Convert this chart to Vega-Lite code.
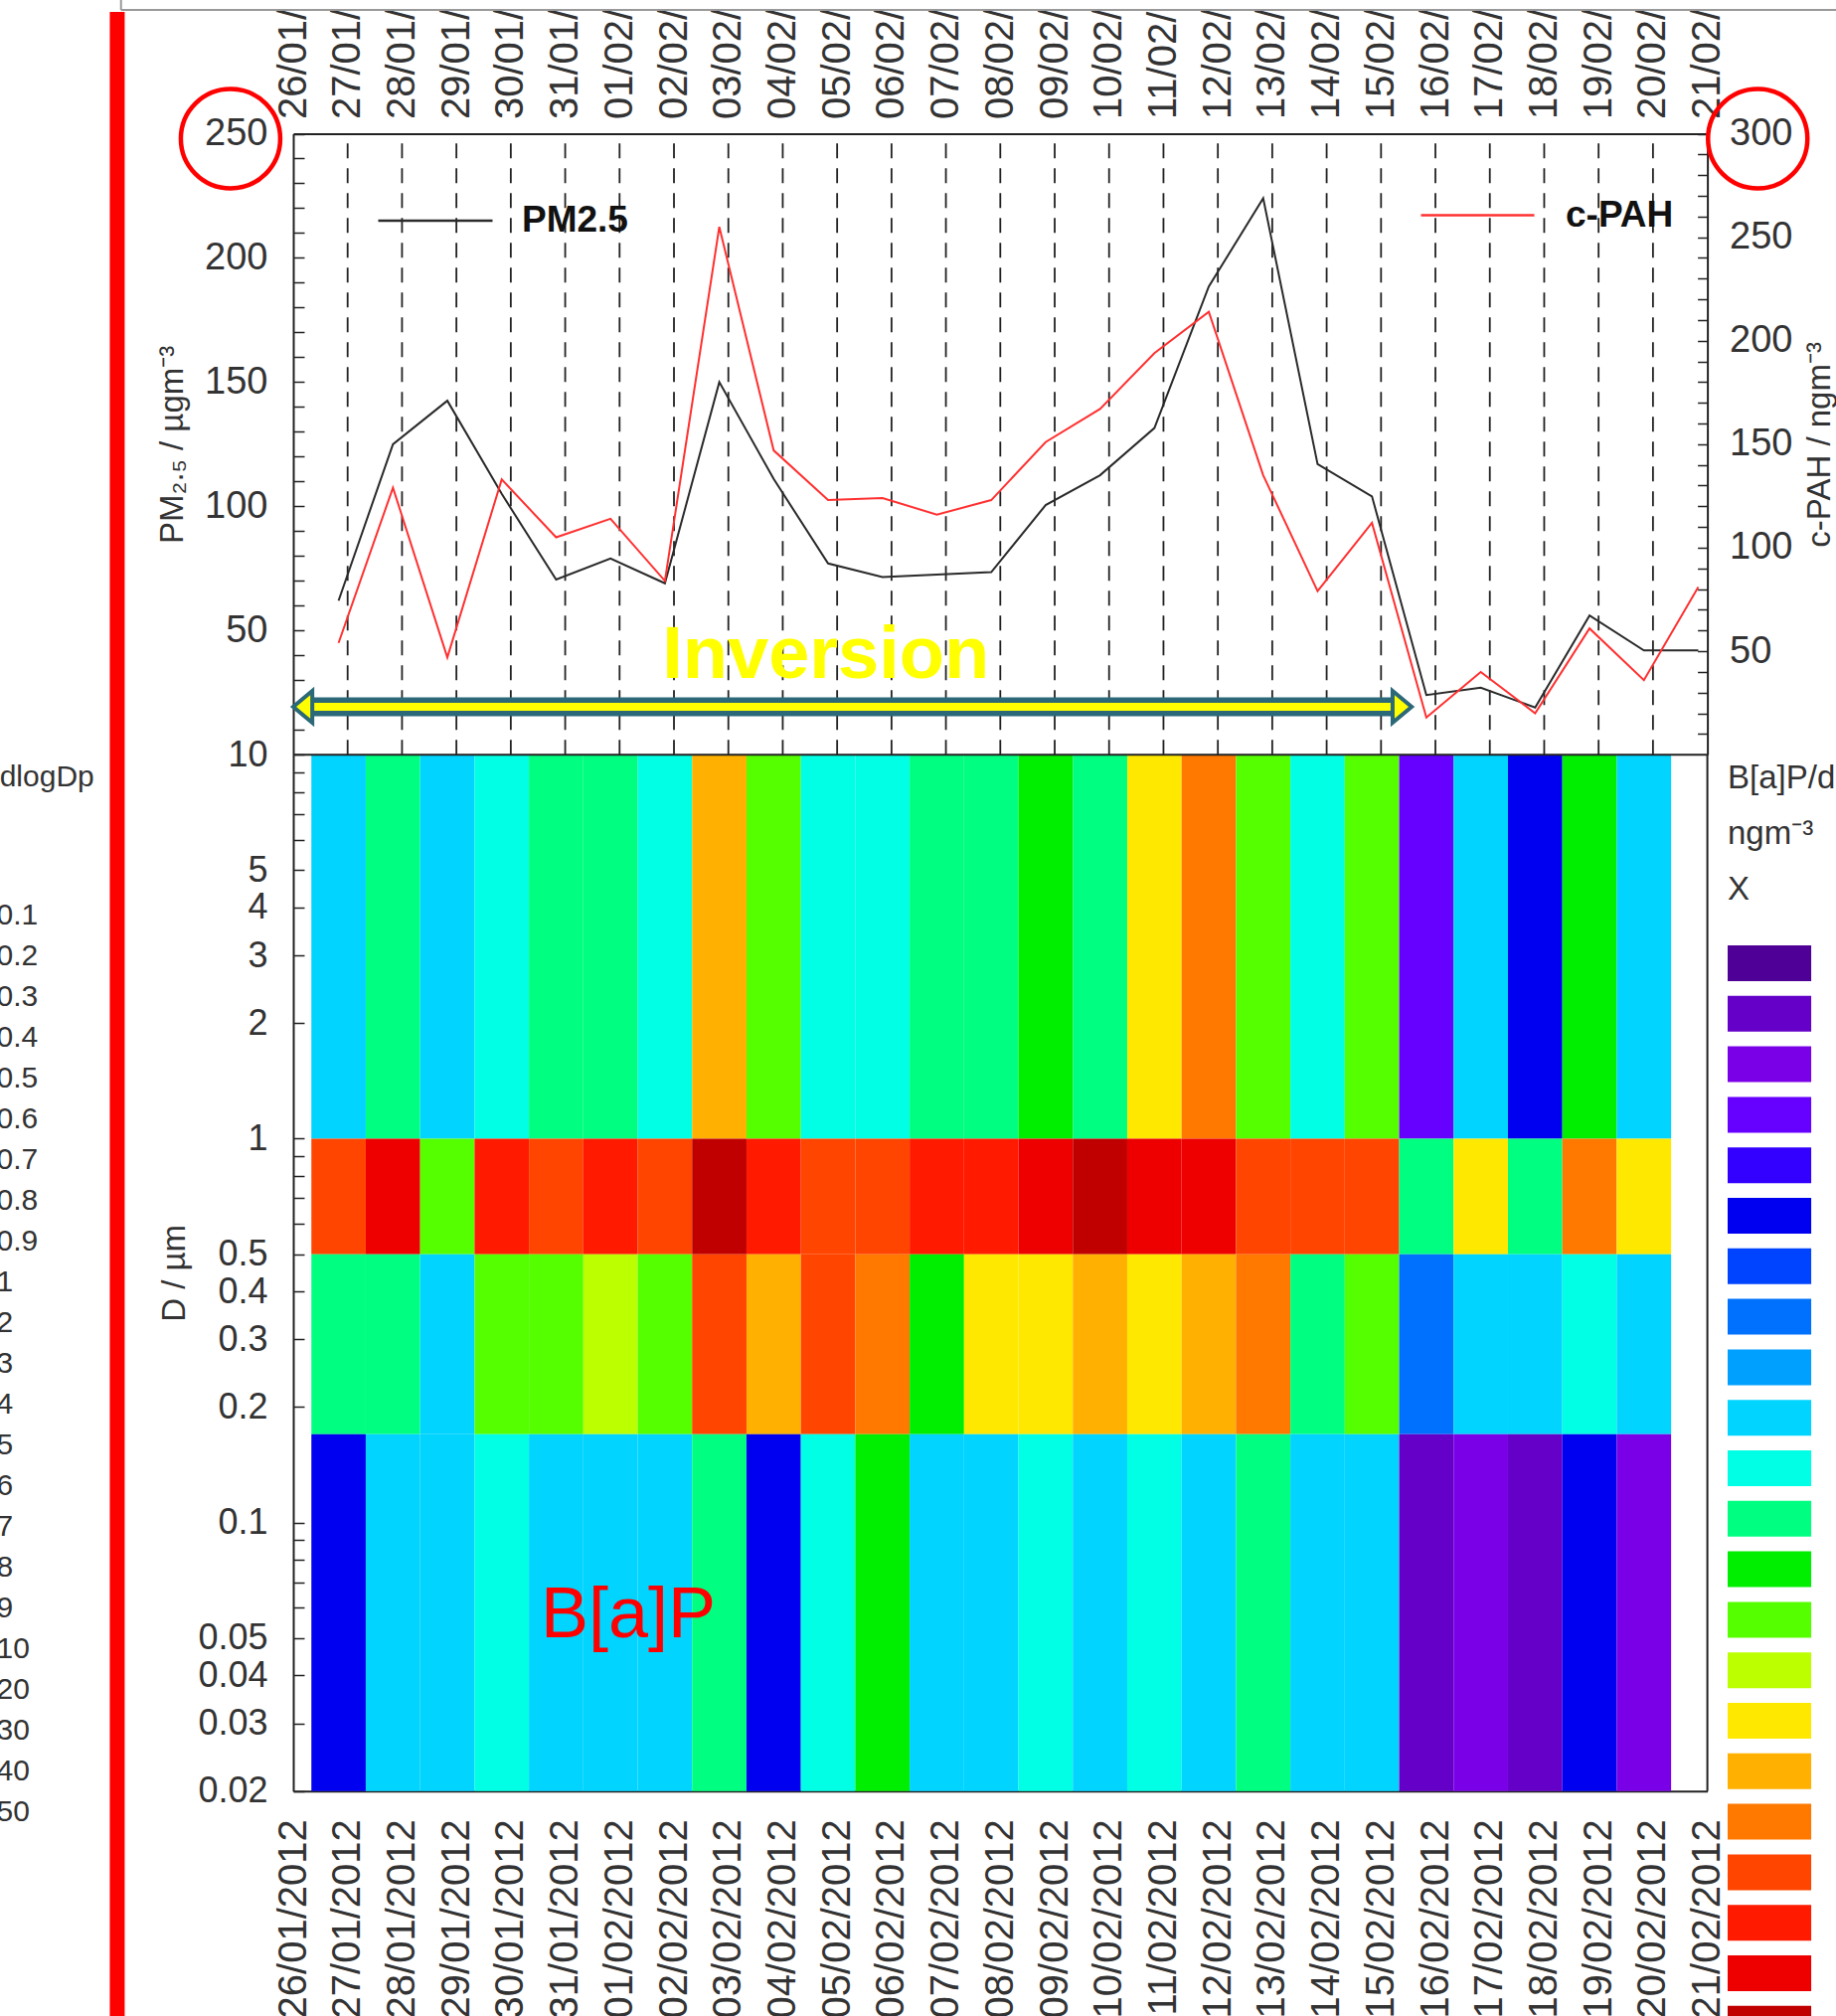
{
  "$schema": "https://vega.github.io/schema/vega-lite/v6.json",
  "width": 1847,
  "height": 2016,
  "autosize": {"type": "none"},
  "padding": {"top": 12, "left": 0, "right": 0, "bottom": 0},
  "background": "#ffffff",
  "config": {
    "view": {"fill": "#c6dce5", "stroke": null},
    "font": "Liberation Sans",
    "axis": {"labelFont": "Liberation Sans", "titleFont": "Liberation Sans", "labelColor": "#333333", "titleColor": "#333333", "domainColor": "#222222", "tickColor": "#222222", "domainWidth": 2, "tickWidth": 1.5, "grid": false, "titleFontWeight": "normal", "labelFlush": false, "labelBound": false, "labelOverlap": false, "labelLimit": 0},
    "legend": {"labelFont": "Liberation Sans", "titleFont": "Liberation Sans", "padding": 0, "titleLimit": 0, "labelLimit": 0}
  },
  "datasets": {
    "gridDates": [
      {"d": "2012-01-27T00:00:00Z"}, {"d": "2012-01-28T00:00:00Z"}, {"d": "2012-01-29T00:00:00Z"}, {"d": "2012-01-30T00:00:00Z"}, {"d": "2012-01-31T00:00:00Z"},
      {"d": "2012-02-01T00:00:00Z"}, {"d": "2012-02-02T00:00:00Z"}, {"d": "2012-02-03T00:00:00Z"}, {"d": "2012-02-04T00:00:00Z"}, {"d": "2012-02-05T00:00:00Z"},
      {"d": "2012-02-06T00:00:00Z"}, {"d": "2012-02-07T00:00:00Z"}, {"d": "2012-02-08T00:00:00Z"}, {"d": "2012-02-09T00:00:00Z"}, {"d": "2012-02-10T00:00:00Z"},
      {"d": "2012-02-11T00:00:00Z"}, {"d": "2012-02-12T00:00:00Z"}, {"d": "2012-02-13T00:00:00Z"}, {"d": "2012-02-14T00:00:00Z"}, {"d": "2012-02-15T00:00:00Z"},
      {"d": "2012-02-16T00:00:00Z"}, {"d": "2012-02-17T00:00:00Z"}, {"d": "2012-02-18T00:00:00Z"}, {"d": "2012-02-19T00:00:00Z"}, {"d": "2012-02-20T00:00:00Z"}
    ],
    "bands": [
      {"band": "b1", "lo": 1, "hi": 10},
      {"band": "b2", "lo": 0.5, "hi": 1},
      {"band": "b3", "lo": 0.17, "hi": 0.5},
      {"band": "b4", "lo": 0.02, "hi": 0.17}
    ],
    "samples": [
      {"start": "2012-01-26T08:00:00Z", "end": "2012-01-27T08:00:00Z", "b1": 10, "b2": 19, "b3": 12, "b4": 6},
      {"start": "2012-01-27T08:00:00Z", "end": "2012-01-28T08:00:00Z", "b1": 12, "b2": 21, "b3": 12, "b4": 10},
      {"start": "2012-01-28T08:00:00Z", "end": "2012-01-29T08:00:00Z", "b1": 10, "b2": 14, "b3": 10, "b4": 10},
      {"start": "2012-01-29T08:00:00Z", "end": "2012-01-30T08:00:00Z", "b1": 11, "b2": 20, "b3": 14, "b4": 11},
      {"start": "2012-01-30T08:00:00Z", "end": "2012-01-31T08:00:00Z", "b1": 12, "b2": 19, "b3": 14, "b4": 10},
      {"start": "2012-01-31T08:00:00Z", "end": "2012-02-01T08:00:00Z", "b1": 12, "b2": 20, "b3": 15, "b4": 10},
      {"start": "2012-02-01T08:00:00Z", "end": "2012-02-02T08:00:00Z", "b1": 11, "b2": 19, "b3": 14, "b4": 10},
      {"start": "2012-02-02T08:00:00Z", "end": "2012-02-03T08:00:00Z", "b1": 17, "b2": 22, "b3": 19, "b4": 12},
      {"start": "2012-02-03T08:00:00Z", "end": "2012-02-04T08:00:00Z", "b1": 14, "b2": 20, "b3": 17, "b4": 6},
      {"start": "2012-02-04T08:00:00Z", "end": "2012-02-05T08:00:00Z", "b1": 11, "b2": 19, "b3": 19, "b4": 11},
      {"start": "2012-02-05T08:00:00Z", "end": "2012-02-06T08:00:00Z", "b1": 11, "b2": 19, "b3": 18, "b4": 13},
      {"start": "2012-02-06T08:00:00Z", "end": "2012-02-07T08:00:00Z", "b1": 12, "b2": 20, "b3": 13, "b4": 10},
      {"start": "2012-02-07T08:00:00Z", "end": "2012-02-08T08:00:00Z", "b1": 12, "b2": 20, "b3": 16, "b4": 10},
      {"start": "2012-02-08T08:00:00Z", "end": "2012-02-09T08:00:00Z", "b1": 13, "b2": 21, "b3": 16, "b4": 11},
      {"start": "2012-02-09T08:00:00Z", "end": "2012-02-10T08:00:00Z", "b1": 12, "b2": 22, "b3": 17, "b4": 10},
      {"start": "2012-02-10T08:00:00Z", "end": "2012-02-11T08:00:00Z", "b1": 16, "b2": 21, "b3": 16, "b4": 11},
      {"start": "2012-02-11T08:00:00Z", "end": "2012-02-12T08:00:00Z", "b1": 18, "b2": 21, "b3": 17, "b4": 10},
      {"start": "2012-02-12T08:00:00Z", "end": "2012-02-13T08:00:00Z", "b1": 14, "b2": 19, "b3": 18, "b4": 12},
      {"start": "2012-02-13T08:00:00Z", "end": "2012-02-14T08:00:00Z", "b1": 11, "b2": 19, "b3": 12, "b4": 10},
      {"start": "2012-02-14T08:00:00Z", "end": "2012-02-15T08:00:00Z", "b1": 14, "b2": 19, "b3": 14, "b4": 10},
      {"start": "2012-02-15T08:00:00Z", "end": "2012-02-16T08:00:00Z", "b1": 4, "b2": 12, "b3": 8, "b4": 2},
      {"start": "2012-02-16T08:00:00Z", "end": "2012-02-17T08:00:00Z", "b1": 10, "b2": 16, "b3": 10, "b4": 3},
      {"start": "2012-02-17T08:00:00Z", "end": "2012-02-18T08:00:00Z", "b1": 6, "b2": 12, "b3": 10, "b4": 2},
      {"start": "2012-02-18T08:00:00Z", "end": "2012-02-19T08:00:00Z", "b1": 13, "b2": 18, "b3": 11, "b4": 6},
      {"start": "2012-02-19T08:00:00Z", "end": "2012-02-20T08:00:00Z", "b1": 10, "b2": 16, "b3": 10, "b4": 3}
    ],
    "lines": [
      {"t": "2012-01-26T20:00:00Z", "pm": 62, "pah": 54},
      {"t": "2012-01-27T20:00:00Z", "pm": 125, "pah": 129},
      {"t": "2012-01-28T20:00:00Z", "pm": 142.5, "pah": 47},
      {"t": "2012-01-29T20:00:00Z", "pm": 105, "pah": 133},
      {"t": "2012-01-30T20:00:00Z", "pm": 70.5, "pah": 105},
      {"t": "2012-01-31T20:00:00Z", "pm": 79, "pah": 114},
      {"t": "2012-02-01T20:00:00Z", "pm": 69, "pah": 84},
      {"t": "2012-02-02T20:00:00Z", "pm": 150, "pah": 255},
      {"t": "2012-02-03T20:00:00Z", "pm": 111, "pah": 147},
      {"t": "2012-02-04T20:00:00Z", "pm": 77, "pah": 123},
      {"t": "2012-02-05T20:00:00Z", "pm": 71.5, "pah": 124},
      {"t": "2012-02-06T20:00:00Z", "pm": 72.5, "pah": 116},
      {"t": "2012-02-07T20:00:00Z", "pm": 73.5, "pah": 123},
      {"t": "2012-02-08T20:00:00Z", "pm": 100.5, "pah": 151},
      {"t": "2012-02-09T20:00:00Z", "pm": 112.5, "pah": 167},
      {"t": "2012-02-10T20:00:00Z", "pm": 131.5, "pah": 194},
      {"t": "2012-02-11T20:00:00Z", "pm": 188.5, "pah": 214},
      {"t": "2012-02-12T20:00:00Z", "pm": 224, "pah": 135},
      {"t": "2012-02-13T20:00:00Z", "pm": 117, "pah": 79},
      {"t": "2012-02-14T20:00:00Z", "pm": 104, "pah": 112},
      {"t": "2012-02-15T20:00:00Z", "pm": 24, "pah": 18},
      {"t": "2012-02-16T20:00:00Z", "pm": 27, "pah": 40},
      {"t": "2012-02-17T20:00:00Z", "pm": 19, "pah": 20},
      {"t": "2012-02-18T20:00:00Z", "pm": 56, "pah": 61},
      {"t": "2012-02-19T20:00:00Z", "pm": 42, "pah": 36},
      {"t": "2012-02-20T20:00:00Z", "pm": 42, "pah": 81}
    ],
    "dn": [
      {"v": "0.1"}, {"v": "0.2"}, {"v": "0.3"}, {"v": "0.4"}, {"v": "0.5"}, {"v": "0.6"}, {"v": "0.7"}, {"v": "0.8"}, {"v": "0.9"},
      {"v": "1"}, {"v": "2"}, {"v": "3"}, {"v": "4"}, {"v": "5"}, {"v": "6"}, {"v": "7"}, {"v": "8"}, {"v": "9"},
      {"v": "10"}, {"v": "20"}, {"v": "30"}, {"v": "40"}, {"v": "50"}
    ]
  },
  "resolve": {
    "scale": {"x": "independent", "y": "independent", "stroke": "independent"},
    "axis": {"x": "independent", "y": "independent"},
    "legend": {"stroke": "independent"}
  },
  "layer": [
    {
      "data": {"values": [{}]},
      "mark": {"type": "rule", "color": "#ff0000", "strokeWidth": 15},
      "encoding": {
        "x": {"datum": {"year": 2012, "month": 1, "date": 22, "hours": 18, "minutes": 20, "utc": true}, "type": "temporal", "scale": {"type": "utc", "domain": [{"year": 2012, "month": 1, "date": 26, "utc": true}, {"year": 2012, "month": 2, "date": 21, "utc": true}], "range": [295, 1717.6]}, "axis": null}
      }
    },
    {
      "data": {"values": [{}]},
      "mark": {"type": "rule", "color": "#999999", "strokeWidth": 2},
      "encoding": {
        "x": {"datum": {"year": 2012, "month": 1, "date": 22, "hours": 20, "utc": true}, "type": "temporal", "scale": {"type": "utc", "domain": [{"year": 2012, "month": 1, "date": 26, "utc": true}, {"year": 2012, "month": 2, "date": 21, "utc": true}], "range": [295, 1717.6]}, "axis": null},
        "x2": {"datum": {"year": 2012, "month": 2, "date": 25, "utc": true}},
        "y": {"datum": 299.8, "type": "quantitative", "scale": {"domain": [0, 250], "range": [747.2, 122.5], "nice": false, "zero": false}, "axis": null}
      }
    },
    {
      "data": {"values": [{}]},
      "mark": {"type": "rule", "color": "#999999", "strokeWidth": 2},
      "encoding": {
        "x": {"datum": {"year": 2012, "month": 1, "date": 22, "hours": 20, "utc": true}, "type": "temporal", "scale": {"type": "utc", "domain": [{"year": 2012, "month": 1, "date": 26, "utc": true}, {"year": 2012, "month": 2, "date": 21, "utc": true}], "range": [295, 1717.6]}, "axis": null},
        "y": {"datum": 299.8, "type": "quantitative", "scale": {"domain": [0, 250], "range": [747.2, 122.5], "nice": false, "zero": false}, "axis": null},
        "y2": {"datum": 306}
      }
    },
    {
      "data": {"name": "gridDates"},
      "mark": {"type": "rule", "color": "#222222", "strokeWidth": 1.8, "strokeDash": [15, 10]},
      "encoding": {
        "x": {"field": "d", "type": "temporal", "scale": {"type": "utc", "domain": [{"year": 2012, "month": 1, "date": 26, "utc": true}, {"year": 2012, "month": 2, "date": 21, "utc": true}], "range": [295, 1717.6]}, "axis": null},
        "y": {"datum": 0, "type": "quantitative", "scale": {"domain": [0, 250], "range": [747.2, 122.5], "nice": false, "zero": false}, "axis": null},
        "y2": {"datum": 250}
      }
    },
    {
      "data": {"name": "samples"},
      "transform": [
        {"fold": ["b1", "b2", "b3", "b4"], "as": ["band", "lev"]},
        {"lookup": "band", "from": {"data": {"name": "bands"}, "key": "band", "fields": ["lo", "hi"]}}
      ],
      "mark": {"type": "rect"},
      "encoding": {
        "x": {"field": "start", "type": "temporal",
          "scale": {"type": "utc", "domain": [{"year": 2012, "month": 1, "date": 26, "utc": true}, {"year": 2012, "month": 2, "date": 21, "utc": true}], "range": [295, 1717.6]},
          "axis": {"orient": "bottom", "offset": -226.3, "title": null, "ticks": false, "format": "%d/%m/%Y", "labelAngle": -90, "labelFontSize": 40, "labelPadding": 28, "labelLimit": 0,
            "values": [
              {"year": 2012, "month": 1, "date": 26, "utc": true}, {"year": 2012, "month": 1, "date": 27, "utc": true}, {"year": 2012, "month": 1, "date": 28, "utc": true}, {"year": 2012, "month": 1, "date": 29, "utc": true}, {"year": 2012, "month": 1, "date": 30, "utc": true}, {"year": 2012, "month": 1, "date": 31, "utc": true},
              {"year": 2012, "month": 2, "date": 1, "utc": true}, {"year": 2012, "month": 2, "date": 2, "utc": true}, {"year": 2012, "month": 2, "date": 3, "utc": true}, {"year": 2012, "month": 2, "date": 4, "utc": true}, {"year": 2012, "month": 2, "date": 5, "utc": true}, {"year": 2012, "month": 2, "date": 6, "utc": true}, {"year": 2012, "month": 2, "date": 7, "utc": true},
              {"year": 2012, "month": 2, "date": 8, "utc": true}, {"year": 2012, "month": 2, "date": 9, "utc": true}, {"year": 2012, "month": 2, "date": 10, "utc": true}, {"year": 2012, "month": 2, "date": 11, "utc": true}, {"year": 2012, "month": 2, "date": 12, "utc": true}, {"year": 2012, "month": 2, "date": 13, "utc": true}, {"year": 2012, "month": 2, "date": 14, "utc": true},
              {"year": 2012, "month": 2, "date": 15, "utc": true}, {"year": 2012, "month": 2, "date": 16, "utc": true}, {"year": 2012, "month": 2, "date": 17, "utc": true}, {"year": 2012, "month": 2, "date": 18, "utc": true}, {"year": 2012, "month": 2, "date": 19, "utc": true}, {"year": 2012, "month": 2, "date": 20, "utc": true}, {"year": 2012, "month": 2, "date": 21, "utc": true}
            ]}},
        "x2": {"field": "end"},
        "y": {"field": "lo", "type": "quantitative",
          "scale": {"type": "log", "domain": [0.02, 10], "range": [1789.7, 747.2], "nice": false},
          "axis": {"orient": "left", "offset": -295, "title": "D / µm", "titleFontSize": 33, "titlePadding": 6, "tickSize": -11, "labelPadding": 37, "labelFontSize": 36,
            "values": [0.02, 0.03, 0.04, 0.05, 0.06, 0.07, 0.08, 0.09, 0.1, 0.2, 0.3, 0.4, 0.5, 0.6, 0.7, 0.8, 0.9, 1, 2, 3, 4, 5, 6, 7, 8, 9, 10],
            "labelExpr": "indexof([0.02, 0.03, 0.04, 0.05, 0.1, 0.2, 0.3, 0.4, 0.5, 1, 2, 3, 4, 5, 10], datum.value) >= 0 ? '' + datum.value : ''"}},
        "y2": {"field": "hi"},
        "color": {"field": "lev", "type": "ordinal",
          "scale": {"domain": [1, 2, 3, 4, 5, 6, 7, 8, 9, 10, 11, 12, 13, 14, 15, 16, 17, 18, 19, 20, 21, 22],
            "range": ["#4f0096", "#6400c8", "#7a00e8", "#6600ff", "#3300ff", "#0000f0", "#0044ff", "#0070ff", "#00a0ff", "#00d4ff", "#00ffe4", "#00ff80", "#00ee00", "#55ff00", "#bbff00", "#ffe800", "#ffb000", "#ff7800", "#ff4500", "#ff1a00", "#ee0000", "#c00000"]},
          "legend": {"orient": "none", "legendX": 1738, "legendY": 755, "direction": "vertical", "title": ["B[a]P/dlogDp", "ngm⁻³", "X"], "titleFontSize": 33, "titleLineHeight": 56, "titleFontWeight": "normal", "titleColor": "#333333", "titlePadding": 39,
            "symbolType": "M-1,-1H3.67V1H-1Z", "symbolSize": 1296, "symbolStrokeWidth": 0, "symbolOpacity": 1, "rowPadding": 14.8, "labelOffset": 120, "labelFontSize": 22, "labelColor": "#333333"}}
      }
    },
    {
      "data": {"name": "lines"},
      "mark": {"type": "line", "strokeWidth": 2},
      "encoding": {
        "x": {"field": "t", "type": "temporal",
          "scale": {"type": "utc", "domain": [{"year": 2012, "month": 1, "date": 26, "utc": true}, {"year": 2012, "month": 2, "date": 21, "utc": true}], "range": [295, 1717.6]},
          "axis": {"orient": "top", "offset": -122.5, "title": null, "ticks": false, "format": "%d/%m/", "labelAngle": -90, "labelFontSize": 40, "labelPadding": 15,
            "values": [
              {"year": 2012, "month": 1, "date": 26, "utc": true}, {"year": 2012, "month": 1, "date": 27, "utc": true}, {"year": 2012, "month": 1, "date": 28, "utc": true}, {"year": 2012, "month": 1, "date": 29, "utc": true}, {"year": 2012, "month": 1, "date": 30, "utc": true}, {"year": 2012, "month": 1, "date": 31, "utc": true},
              {"year": 2012, "month": 2, "date": 1, "utc": true}, {"year": 2012, "month": 2, "date": 2, "utc": true}, {"year": 2012, "month": 2, "date": 3, "utc": true}, {"year": 2012, "month": 2, "date": 4, "utc": true}, {"year": 2012, "month": 2, "date": 5, "utc": true}, {"year": 2012, "month": 2, "date": 6, "utc": true}, {"year": 2012, "month": 2, "date": 7, "utc": true},
              {"year": 2012, "month": 2, "date": 8, "utc": true}, {"year": 2012, "month": 2, "date": 9, "utc": true}, {"year": 2012, "month": 2, "date": 10, "utc": true}, {"year": 2012, "month": 2, "date": 11, "utc": true}, {"year": 2012, "month": 2, "date": 12, "utc": true}, {"year": 2012, "month": 2, "date": 13, "utc": true}, {"year": 2012, "month": 2, "date": 14, "utc": true},
              {"year": 2012, "month": 2, "date": 15, "utc": true}, {"year": 2012, "month": 2, "date": 16, "utc": true}, {"year": 2012, "month": 2, "date": 17, "utc": true}, {"year": 2012, "month": 2, "date": 18, "utc": true}, {"year": 2012, "month": 2, "date": 19, "utc": true}, {"year": 2012, "month": 2, "date": 20, "utc": true}, {"year": 2012, "month": 2, "date": 21, "utc": true}
            ]}},
        "y": {"field": "pm", "type": "quantitative",
          "scale": {"domain": [0, 250], "range": [747.2, 122.5], "nice": false, "zero": false},
          "axis": {"orient": "left", "offset": -295, "title": "PM₂.₅ / µgm⁻³", "titleFontSize": 33, "titlePadding": 15, "tickSize": -11, "labelPadding": 37, "labelFontSize": 38,
            "values": [10, 20, 30, 40, 50, 60, 70, 80, 90, 100, 110, 120, 130, 140, 150, 160, 170, 180, 190, 200, 210, 220, 230, 240, 250],
            "labelExpr": "datum.value % 50 === 0 ? datum.label : ''"}},
        "stroke": {"datum": "PM2.5", "type": "nominal", "scale": {"range": ["#2a2a2a"]},
          "legend": {"orient": "none", "legendX": 379, "legendY": 151, "title": null, "symbolType": "stroke", "symbolSize": 13225, "symbolStrokeWidth": 2.5, "labelFontSize": 37, "labelFontWeight": "bold", "labelColor": "#111111", "labelOffset": 28}}
      }
    },
    {
      "data": {"name": "lines"},
      "mark": {"type": "line", "strokeWidth": 2},
      "encoding": {
        "x": {"field": "t", "type": "temporal",
          "scale": {"type": "utc", "domain": [{"year": 2012, "month": 1, "date": 26, "utc": true}, {"year": 2012, "month": 2, "date": 21, "utc": true}], "range": [295, 1717.6]}, "axis": null},
        "y": {"field": "pah", "type": "quantitative",
          "scale": {"domain": [0, 300], "range": [747.2, 122.5], "nice": false, "zero": false},
          "axis": {"orient": "right", "offset": -129.4, "title": "c-PAH / ngm⁻³", "titleFontSize": 33, "titleAngle": 270, "titleBaseline": "top", "titlePadding": 11, "tickSize": -10, "labelPadding": 32, "labelFontSize": 38,
            "values": [10, 20, 30, 40, 50, 60, 70, 80, 90, 100, 110, 120, 130, 140, 150, 160, 170, 180, 190, 200, 210, 220, 230, 240, 250, 260, 270, 280, 290, 300],
            "labelExpr": "datum.value % 50 === 0 ? datum.label : ''"}},
        "stroke": {"datum": "c-PAH", "type": "nominal", "scale": {"range": ["#ff3030"]},
          "legend": {"orient": "none", "legendX": 1428, "legendY": 146, "title": null, "symbolType": "stroke", "symbolSize": 12996, "symbolStrokeWidth": 2.5, "labelFontSize": 37, "labelFontWeight": "bold", "labelColor": "#111111", "labelOffset": 30}}
      }
    },
    {
      "data": {"values": [{}]},
      "mark": {"type": "rule", "color": "#2b6878", "strokeWidth": 19},
      "encoding": {
        "x": {"datum": {"year": 2012, "month": 1, "date": 26, "hours": 7, "utc": true}, "type": "temporal", "scale": {"type": "utc", "domain": [{"year": 2012, "month": 1, "date": 26, "utc": true}, {"year": 2012, "month": 2, "date": 21, "utc": true}], "range": [295, 1717.6]}, "axis": null},
        "x2": {"datum": {"year": 2012, "month": 2, "date": 15, "hours": 6, "minutes": 30, "utc": true}},
        "y": {"datum": 19.3, "type": "quantitative", "scale": {"domain": [0, 250], "range": [747.2, 122.5], "nice": false, "zero": false}, "axis": null}
      }
    },
    {
      "data": {"values": [{}]},
      "mark": {"type": "rule", "color": "#ffff00", "strokeWidth": 8},
      "encoding": {
        "x": {"datum": {"year": 2012, "month": 1, "date": 26, "hours": 7, "utc": true}, "type": "temporal", "scale": {"type": "utc", "domain": [{"year": 2012, "month": 1, "date": 26, "utc": true}, {"year": 2012, "month": 2, "date": 21, "utc": true}], "range": [295, 1717.6]}, "axis": null},
        "x2": {"datum": {"year": 2012, "month": 2, "date": 15, "hours": 6, "minutes": 30, "utc": true}},
        "y": {"datum": 19.3, "type": "quantitative", "scale": {"domain": [0, 250], "range": [747.2, 122.5], "nice": false, "zero": false}, "axis": null}
      }
    },
    {
      "data": {"values": [{}]},
      "mark": {"type": "point", "shape": "M-1,0L0.2,-1L0.2,1Z", "size": 1024, "filled": true, "fill": "#ffff00", "stroke": "#2b6878", "strokeWidth": 4, "opacity": 1},
      "encoding": {
        "x": {"datum": {"year": 2012, "month": 1, "date": 26, "hours": 7, "utc": true}, "type": "temporal", "scale": {"type": "utc", "domain": [{"year": 2012, "month": 1, "date": 26, "utc": true}, {"year": 2012, "month": 2, "date": 21, "utc": true}], "range": [295, 1717.6]}, "axis": null},
        "y": {"datum": 19.3, "type": "quantitative", "scale": {"domain": [0, 250], "range": [747.2, 122.5], "nice": false, "zero": false}, "axis": null}
      }
    },
    {
      "data": {"values": [{}]},
      "mark": {"type": "point", "shape": "M1,0L-0.2,-1L-0.2,1Z", "size": 1024, "filled": true, "fill": "#ffff00", "stroke": "#2b6878", "strokeWidth": 4, "opacity": 1},
      "encoding": {
        "x": {"datum": {"year": 2012, "month": 2, "date": 15, "hours": 6, "minutes": 30, "utc": true}, "type": "temporal", "scale": {"type": "utc", "domain": [{"year": 2012, "month": 1, "date": 26, "utc": true}, {"year": 2012, "month": 2, "date": 21, "utc": true}], "range": [295, 1717.6]}, "axis": null},
        "y": {"datum": 19.3, "type": "quantitative", "scale": {"domain": [0, 250], "range": [747.2, 122.5], "nice": false, "zero": false}, "axis": null}
      }
    },
    {
      "data": {"values": [{"label": "Inversion"}]},
      "mark": {"type": "text", "fontSize": 74, "fontWeight": "bold", "color": "#ffff00", "font": "Liberation Sans", "baseline": "middle", "align": "center"},
      "encoding": {
        "text": {"field": "label"},
        "x": {"datum": {"year": 2012, "month": 2, "date": 4, "hours": 19, "utc": true}, "type": "temporal", "scale": {"type": "utc", "domain": [{"year": 2012, "month": 1, "date": 26, "utc": true}, {"year": 2012, "month": 2, "date": 21, "utc": true}], "range": [295, 1717.6]}, "axis": null},
        "y": {"datum": 39.7, "type": "quantitative", "scale": {"domain": [0, 250], "range": [747.2, 122.5], "nice": false, "zero": false}, "axis": null}
      }
    },
    {
      "data": {"values": [{"label": "B[a]P"}]},
      "mark": {"type": "text", "fontSize": 72, "color": "#ff0000", "font": "Liberation Sans", "baseline": "middle", "align": "center"},
      "encoding": {
        "text": {"field": "label"},
        "x": {"datum": {"year": 2012, "month": 2, "date": 1, "hours": 3, "minutes": 50, "utc": true}, "type": "temporal", "scale": {"type": "utc", "domain": [{"year": 2012, "month": 1, "date": 26, "utc": true}, {"year": 2012, "month": 2, "date": 21, "utc": true}], "range": [295, 1717.6]}, "axis": null},
        "y": {"datum": 0.0573, "type": "quantitative", "scale": {"type": "log", "domain": [0.02, 10], "range": [1789.7, 747.2], "nice": false}, "axis": null}
      }
    },
    {
      "data": {"values": [{}]},
      "mark": {"type": "rule", "color": "#222222", "strokeWidth": 2},
      "encoding": {
        "x": {"datum": {"year": 2012, "month": 1, "date": 26, "utc": true}, "type": "temporal", "scale": {"type": "utc", "domain": [{"year": 2012, "month": 1, "date": 26, "utc": true}, {"year": 2012, "month": 2, "date": 21, "utc": true}], "range": [295, 1717.6]}, "axis": null},
        "x2": {"datum": {"year": 2012, "month": 2, "date": 21, "utc": true}},
        "y": {"datum": 0, "type": "quantitative", "scale": {"domain": [0, 250], "range": [747.2, 122.5], "nice": false, "zero": false}, "axis": null}
      }
    },
    {
      "data": {"values": [{}]},
      "mark": {"type": "rule", "color": "#222222", "strokeWidth": 2},
      "encoding": {
        "x": {"datum": {"year": 2012, "month": 2, "date": 21, "utc": true}, "type": "temporal", "scale": {"type": "utc", "domain": [{"year": 2012, "month": 1, "date": 26, "utc": true}, {"year": 2012, "month": 2, "date": 21, "utc": true}], "range": [295, 1717.6]}, "axis": null},
        "y": {"datum": 0.02, "type": "quantitative", "scale": {"type": "log", "domain": [0.02, 10], "range": [1789.7, 747.2], "nice": false}, "axis": null},
        "y2": {"datum": 10}
      }
    },
    {
      "data": {"values": [{}]},
      "mark": {"type": "point", "shape": "circle", "size": 10000, "filled": false, "stroke": "#ff0000", "strokeWidth": 4.5, "opacity": 1},
      "encoding": {
        "x": {"datum": {"year": 2012, "month": 1, "date": 24, "hours": 20, "minutes": 20, "utc": true}, "type": "temporal", "scale": {"type": "utc", "domain": [{"year": 2012, "month": 1, "date": 26, "utc": true}, {"year": 2012, "month": 2, "date": 21, "utc": true}], "range": [295, 1717.6]}, "axis": null},
        "y": {"datum": 248, "type": "quantitative", "scale": {"domain": [0, 250], "range": [747.2, 122.5], "nice": false, "zero": false}, "axis": null}
      }
    },
    {
      "data": {"values": [{}]},
      "mark": {"type": "point", "shape": "circle", "size": 10000, "filled": false, "stroke": "#ff0000", "strokeWidth": 4.5, "opacity": 1},
      "encoding": {
        "x": {"datum": {"year": 2012, "month": 2, "date": 21, "hours": 22, "minutes": 13, "utc": true}, "type": "temporal", "scale": {"type": "utc", "domain": [{"year": 2012, "month": 1, "date": 26, "utc": true}, {"year": 2012, "month": 2, "date": 21, "utc": true}], "range": [295, 1717.6]}, "axis": null},
        "y": {"datum": 248, "type": "quantitative", "scale": {"domain": [0, 250], "range": [747.2, 122.5], "nice": false, "zero": false}, "axis": null}
      }
    },
    {
      "data": {"name": "dn"},
      "mark": {"type": "point", "opacity": 0},
      "encoding": {
        "shape": {"field": "v", "type": "nominal",
          "scale": {"domain": ["0.1", "0.2", "0.3", "0.4", "0.5", "0.6", "0.7", "0.8", "0.9", "1", "2", "3", "4", "5", "6", "7", "8", "9", "10", "20", "30", "40", "50"]},
          "legend": {"orient": "none", "legendX": -47, "legendY": 755, "direction": "vertical", "title": "dN/dlogDp", "titleFontSize": 30, "titleFontWeight": "normal", "titleColor": "#333333", "titlePadding": 109,
            "labelFontSize": 30, "labelColor": "#333333", "labelOffset": 13.5, "symbolSize": 36, "symbolOpacity": 0, "symbolStrokeWidth": 0, "rowPadding": 11}}
      }
    }
  ]
}
